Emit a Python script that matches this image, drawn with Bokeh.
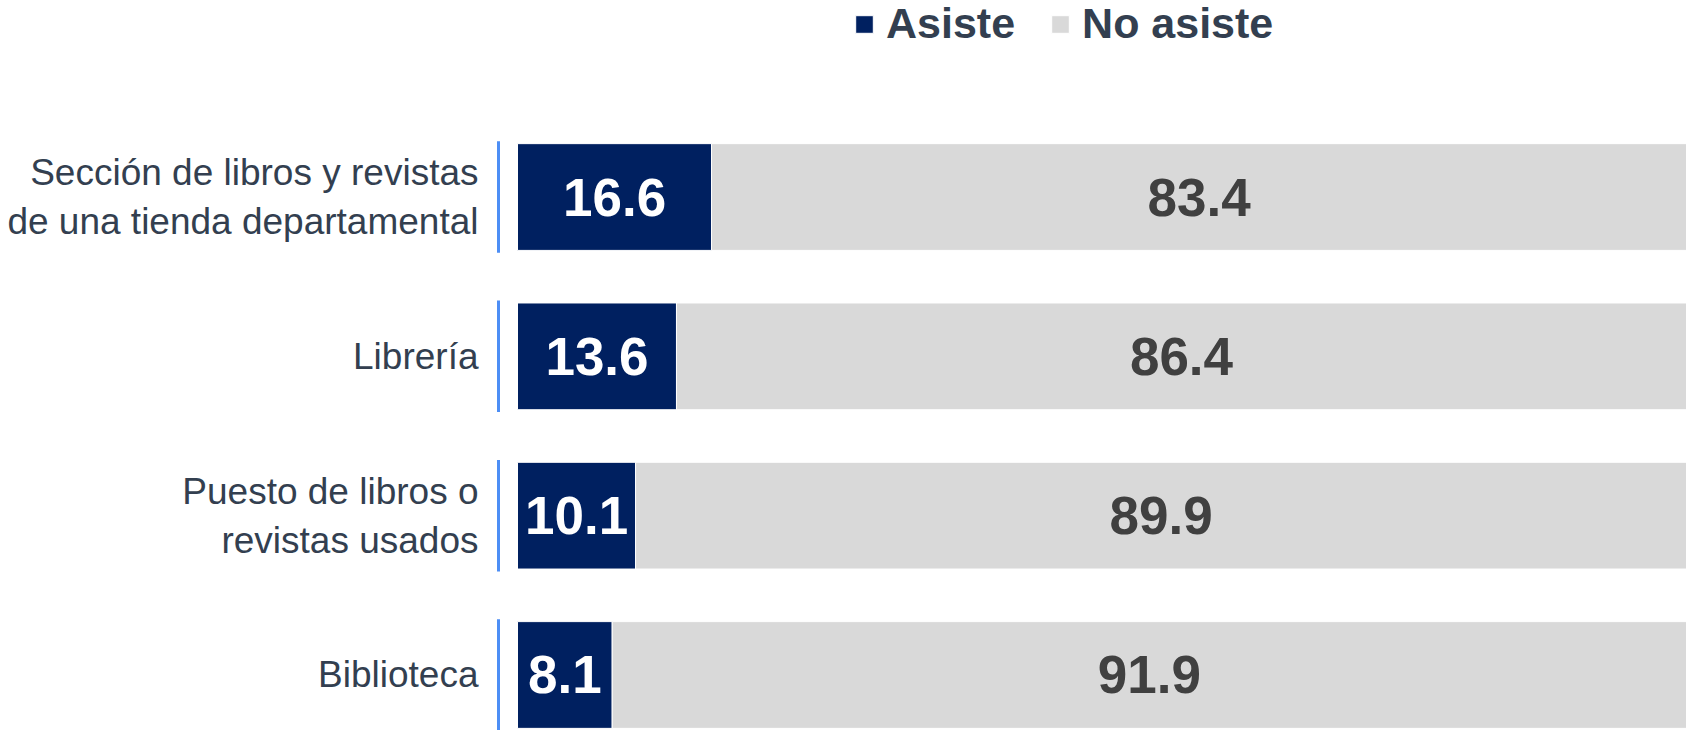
from bokeh.plotting import figure
from bokeh.models import ColumnDataSource, Legend, LegendItem
from bokeh.core.properties import value
from bokeh.embed import file_html
from bokeh.resources import INLINE

# ---- data (top to bottom as in the chart) ----
categories = [
    "Sección de libros y revistas\nde una tienda departamental",
    "Librería",
    "Puesto de libros o\nrevistas usados",
    "Biblioteca",
]
asiste = [16.6, 13.6, 10.1, 8.1]
no_asiste = [83.4, 86.4, 89.9, 91.9]
series_names = ["Asiste", "No asiste"]

# ---- styles ----
DARK = "#002060"
GRAY = "#D9D9D9"
TEXT = "#333F50"
AXIS_BLUE = "#4D8EF5"
FONT = "Liberation Sans"

n = len(categories)
pos = [n - 1 - i for i in range(n)]  # top category highest

W, H = 1686, 730
LEFT = 488
px_per_unit = 11.69
x_start = -(517 - LEFT) / px_per_unit
x_end = x_start + (W - LEFT) / px_per_unit
y_unit = 159.3
y_start = -(H - 674.5) / y_unit
y_end = (n - 1) + 196.5 / y_unit

src = ColumnDataSource(dict(
    pos=pos,
    asiste=asiste,
    no_asiste=no_asiste,
    total=[a + b for a, b in zip(asiste, no_asiste)],
    lab_a=[f"{v:.1f}" for v in asiste],
    lab_n=[f"{v:.1f}" for v in no_asiste],
    xa=[a / 2 for a in asiste],
    xn=[a + b / 2 for a, b in zip(asiste, no_asiste)],
    y0=[p_ - 0.35 for p_ in pos],
    y1=[p_ + 0.35 for p_ in pos],
    xax=[x_start + 10 / px_per_unit] * n,
))

p = figure(width=W, height=H, output_backend="svg", toolbar_location=None,
           x_range=(x_start, x_end), y_range=(y_start, y_end),
           min_border_left=LEFT, min_border_right=0, min_border_top=0, min_border_bottom=0)
p.outline_line_color = None
p.grid.visible = False
p.xaxis.visible = False
p.background_fill_color = "white"

r_a = p.hbar(y="pos", left=0, right="asiste", height=0.67, source=src,
             fill_color=DARK, line_color="white", line_width=1)
r_n = p.hbar(y="pos", left="asiste", right="total", height=0.67, source=src,
             fill_color=GRAY, line_color="white", line_width=1)

# segmented category axis line
p.segment(x0="xax", x1="xax", y0="y0", y1="y1", source=src,
          line_color=AXIS_BLUE, line_width=3)

p.text(x="xa", y="pos", text="lab_a", source=src, text_align="center",
       text_baseline="middle", text_color="white", text_font=value(FONT),
       text_font_style="bold", text_font_size="53px")
p.text(x="xn", y="pos", text="lab_n", source=src, text_align="center",
       text_baseline="middle", text_color="#404040", text_font=value(FONT),
       text_font_style="bold", text_font_size="53px")

yax = p.yaxis[0]
yax.ticker = pos
yax.major_label_overrides = {p_: c for p_, c in zip(pos, categories)}
yax.axis_line_color = None
yax.major_tick_line_color = None
yax.minor_tick_line_color = None
yax.major_tick_out = 0
yax.major_tick_in = 0
yax.major_label_standoff = 10
yax.major_label_text_font = FONT
yax.major_label_text_font_size = "37px"
yax.major_label_text_color = TEXT

legend = Legend(items=[LegendItem(label=series_names[0], renderers=[r_a]),
                       LegendItem(label=series_names[1], renderers=[r_n])],
                orientation="horizontal", location=(365, H - 48),
                glyph_width=22, glyph_height=22, label_standoff=11, spacing=34,
                padding=0, margin=0, border_line_color=None,
                background_fill_alpha=0,
                label_text_font=FONT, label_text_font_style="bold",
                label_text_font_size="43px", label_text_color=TEXT)
p.add_layout(legend, "center")

open("out.html", "w").write(file_html(p, INLINE))
